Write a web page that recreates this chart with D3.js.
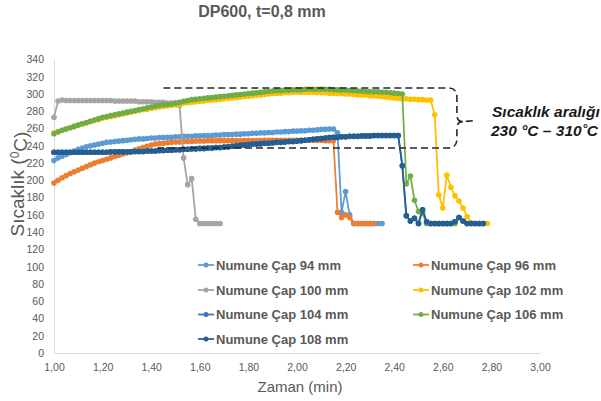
<!DOCTYPE html>
<html>
<head>
<meta charset="utf-8">
<script src="https://cdn.jsdelivr.net/npm/d3@7"></script>
<style>
  body { margin: 0; background: #fff; }
  svg { font-family: "Liberation Sans", Arial, sans-serif; }
  .tick text { fill: #595959; font-size: 10.5px; }
  .domain { stroke: #d9d9d9; }
</style>
</head>
<body>
<div id="chart"></div>
<script>
// samples are one second apart, starting at 1,00 min
var startTime = 1.0,
  stepMin = 1 / 60;

var seriesNames = [
  "Numune Çap 94 mm", "Numune Çap 96 mm", "Numune Çap 100 mm", "Numune Çap 102 mm",
  "Numune Çap 104 mm", "Numune Çap 106 mm", "Numune Çap 108 mm"
];
var seriesColors = ["#5B9BD5", "#ED7D31", "#A5A5A5", "#FFC000", "#4472C4", "#70AD47", "#255E91"];

var temp94 = [223,226,228,230,232,234,236,237.5,239,240,241,242,243,244,244.5,245,245.5,246,246.5,247,
  247.5,248,248,248.5,249,249,249.5,249.5,250,250,250.5,250.5,251,251,251,251.5,251.5,252,252,252,
  252.5,252.5,253,253,253,253.5,253.5,254,254,254.5,254.5,255,255,255.5,255.5,256,256,256.5,256.5,257,
  257,257.5,257.5,258,258,258.5,259,259,259.5,259.5,255,163,187,160,150,150,150,150,150,150,150,150];

var temp96 = [197,200,203,205.5,208,210,212,214,216,218,220,221.5,223,224.5,226,227.5,229,230.5,232,233.5,
  235,236.5,238,239.5,241,242,242.5,243,243.5,244,244.5,244.5,245,245,245,245.5,245.5,245.5,246,246,
  246,246,246,246,246,246,246,246,246,246,246,246,246.5,246.5,246.5,246.5,246.5,246.5,246.5,246.5,
  246.5,246.5,246.5,246.5,246.5,246.5,246.5,246,246,246,163,157,160,157,150,150,150,150,150,150];

var temp100 = [273,292,293,292.5,292.5,292.5,292.5,292.5,292.5,292.5,292.5,292.5,292.5,292.5,292.5,292,292,292,292,292,
  292,291,291,291,291,290.5,290.5,290.5,289.5,289.5,289.5,287,226,195,202,155,150,150,150,150,150,150];

var temp102 = [255,256.5,258,259.5,261,262.5,264,265.5,266.5,268,269.5,270.5,272,273,274,275,276,277,278,279,
  280,281,282,282.5,283.5,284.5,285,285.5,286.5,287,287.5,288.5,289.5,290,290.5,291,291.5,292,292.5,293,
  293.5,294,294.5,295,295.5,296,296.5,297,297.5,298,298.5,299,299.5,300,300.5,301,301,301.5,301.5,302,
  302,302,302,302,302,301.5,301.5,301.5,301,301,300.5,300.5,300,300,299.5,299,299,298.5,298,298,
  297.5,297,296.5,296,295.5,295,294.5,294.5,294,294,293.5,293.5,293,293,276,183,168,206,192,182,
  176,168,158,151,150,150,150,150];

var temp104 = [232.5,232.5,232.5,232.5,232.5,232.5,232.5,232.5,232.5,232.5,232.5,232.5,232.5,232.5,233,233,233,233,233,233,
  233.5,233.5,233.5,234,234,234,234.5,234.5,235,235,235.5,235.5,236,236,236.5,236.5,237,237,237.5,237.5,
  238,238,238.5,239,239.5,240,240.5,241,241.5,242,242,242.5,243,243,243.5,244,244,244.5,245,245,
  245.5,246,246.5,247,247.5,248,248.5,249,249.5,250,250,250.5,250.5,251,251,251,251.5,251.5,251.5,252,
  252,252,252,252,252,252,217,159,153,156,150,166,152,150,150,150,150,150,150,152,
  157,153,150,150,150,150,150];

var temp106 = [254,256,258,259.5,261,262.5,264,265.5,267,268.5,270,271.5,273,274,275,276,277,278,279,280,
  281,282,283,284,285,286,287,287.5,288,288.5,289.5,290.5,291.5,292.5,293.5,294,294.5,295,295.5,296,
  296.5,297,297.5,298,298.5,299,299.5,300,300.5,301,301.5,302,302.5,303,303.5,304,304,304.5,304.5,305,
  305,305,305.5,305.5,305.5,305.5,305.5,305.5,305.5,305,305,304.5,304.5,304,304,303.5,303.5,303,303,302.5,
  302.5,302,302,301.5,301,300.5,300,196,205,177,164,162,150,150,150,150,150,150,150,150];

var temp108 = [232.5,232.5,232.5,232.5,232.5,232.5,232.5,232.5,232.5,232.5,232.5,232.5,232.5,232.5,233,233,233,233,233,233,
  233.5,233.5,233.5,234,234,234,234.5,234.5,235,235,235.5,235.5,236,236,236.5,236.5,237,237,237.5,237.5,
  238,238,238.5,239,239.5,240,240.5,241,241.5,242,242,242.5,243,243,243.5,244,244,244.5,245,245,
  245.5,246,246.5,247,247.5,248,248.5,249,249.5,250,250,250.5,250.5,251,251,251,251.5,251.5,251.5,252,
  252,252,252,252,252,252,217,159,153,156,150,166,152,150,150,150,150,150,150,152,
  157,153,150,150,150,150,150];

var seriesValues = [temp94, temp96, temp100, temp102, temp104, temp106, temp108];

var xTicks = [1.0, 1.2, 1.4, 1.6, 1.8, 2.0, 2.2, 2.4, 2.6, 2.8, 3.0];
var yTicks = [0, 20, 40, 60, 80, 100, 120, 140, 160, 180, 200, 220, 240, 260, 280, 300, 320, 340];

// temperature window annotation
var bandHigh = 307, bandLow = 237.5, bandMid = 268,
  bandTopStart = 1.45, bandBottomStart = 1.425, bandRight = 2.658, bandTip = 2.732;

var width = 601, height = 401;
var margin = { top: 59.5, right: 61, bottom: 48, left: 54 };

var svg = d3
  .select("#chart")
  .append("svg")
  .attr("width", width)
  .attr("height", height);

var x = d3
  .scaleLinear()
  .domain([1, 3])
  .range([margin.left, width - margin.right]);

var y = d3
  .scaleLinear()
  .domain([0, 340])
  .range([height - margin.bottom, margin.top]);

var commaFmt = (d) => d3.format(".2f")(d).replace(".", ",");

// Add X axis
svg
  .append("g")
  .attr("transform", "translate(0," + y(0) + ")")
  .call(d3.axisBottom(x).tickValues(xTicks).tickFormat(commaFmt).tickSize(0).tickPadding(11));

// Add Y axis
svg
  .append("g")
  .attr("transform", "translate(" + x(1) + ",0)")
  .call(d3.axisLeft(y).tickValues(yTicks).tickSize(0).tickPadding(10));

// Title
svg
  .append("text")
  .attr("x", 262)
  .attr("y", 17)
  .attr("text-anchor", "middle")
  .style("font-size", "16px")
  .style("font-weight", "bold")
  .style("fill", "#595959")
  .text("DP600, t=0,8 mm");

// Axis titles
svg
  .append("text")
  .attr("x", 300)
  .attr("y", 392)
  .attr("text-anchor", "middle")
  .style("font-size", "15px")
  .style("fill", "#595959")
  .text("Zaman (min)");

var yTitle = svg
  .append("text")
  .attr("transform", "translate(24,184) rotate(-90)")
  .attr("text-anchor", "middle")
  .style("font-size", "19px")
  .style("fill", "#595959");
yTitle.append("tspan").text("Sıcaklık (");
yTitle.append("tspan").attr("dy", "-0.45em").style("font-size", "12px").text("0");
yTitle.append("tspan").attr("dy", "0.45em").text("C)");

// Lines + markers
var line = d3
  .line()
  .x((d) => x(d.t))
  .y((d) => y(d.v));

seriesValues.forEach(function (vals, k) {
  var pts = vals.map((v, i) => ({ t: startTime + i * stepMin, v: v }));
  var g = svg.append("g");
  g.append("path")
    .datum(pts)
    .attr("fill", "none")
    .attr("stroke", seriesColors[k])
    .attr("stroke-width", 1.75)
    .attr("d", line);
  g.selectAll("circle")
    .data(pts)
    .enter()
    .append("circle")
    .attr("cx", (d) => x(d.t))
    .attr("cy", (d) => y(d.v))
    .attr("r", 2.8)
    .attr("fill", seriesColors[k]);
});

// Dashed bracket
var xl1 = x(bandTopStart), xl2 = x(bandBottomStart), xr = x(bandRight), xt = x(bandTip),
  yt = y(bandHigh), yb = y(bandLow), ym = y(bandMid), r = 9;

svg
  .append("path")
  .attr("fill", "none")
  .attr("stroke", "#262626")
  .attr("stroke-width", 1.6)
  .attr("stroke-dasharray", "7,4")
  .attr("d",
    "M" + xl1 + "," + yt + "H" + (xr - r) + "Q" + xr + "," + yt + " " + xr + "," + (yt + r) +
    "V" + (ym - 7) + "Q" + xr + "," + ym + " " + (xr + 6) + "," + ym + "L" + xt + "," + (ym - 1) +
    "M" + (xr + 6) + "," + ym + "Q" + xr + "," + ym + " " + xr + "," + (ym + 7) +
    "V" + (yb - r) + "Q" + xr + "," + yb + " " + (xr - r) + "," + yb + "H" + xl2);

svg
  .append("text")
  .attr("x", 492)
  .attr("y", 117)
  .style("font-size", "15.5px")
  .style("font-weight", "bold")
  .style("font-style", "italic")
  .style("fill", "#1a1a1a")
  .text("Sıcaklık aralığı");

svg
  .append("text")
  .attr("x", 491)
  .attr("y", 135.5)
  .style("font-size", "15.5px")
  .style("font-weight", "bold")
  .style("font-style", "italic")
  .style("fill", "#1a1a1a")
  .text("230 °C – 310˚C");

// Legend
var legendCols = [198, 413],
  legendRows = [265, 290, 314.5, 339];

seriesNames.forEach(function (name, k) {
  var lx = legendCols[k % 2],
    ly = legendRows[Math.floor(k / 2)];
  var g = svg.append("g");
  g.append("line")
    .attr("x1", lx)
    .attr("x2", lx + 16)
    .attr("y1", ly)
    .attr("y2", ly)
    .attr("stroke", seriesColors[k])
    .attr("stroke-width", 1.75);
  g.append("circle")
    .attr("cx", lx + 8)
    .attr("cy", ly)
    .attr("r", 2.5)
    .attr("fill", seriesColors[k]);
  g.append("text")
    .attr("x", lx + 18)
    .attr("y", ly + 4.5)
    .style("font-size", "13px")
    .style("font-weight", "bold")
    .style("fill", "#595959")
    .text(name);
});
</script>
</body>
</html>
